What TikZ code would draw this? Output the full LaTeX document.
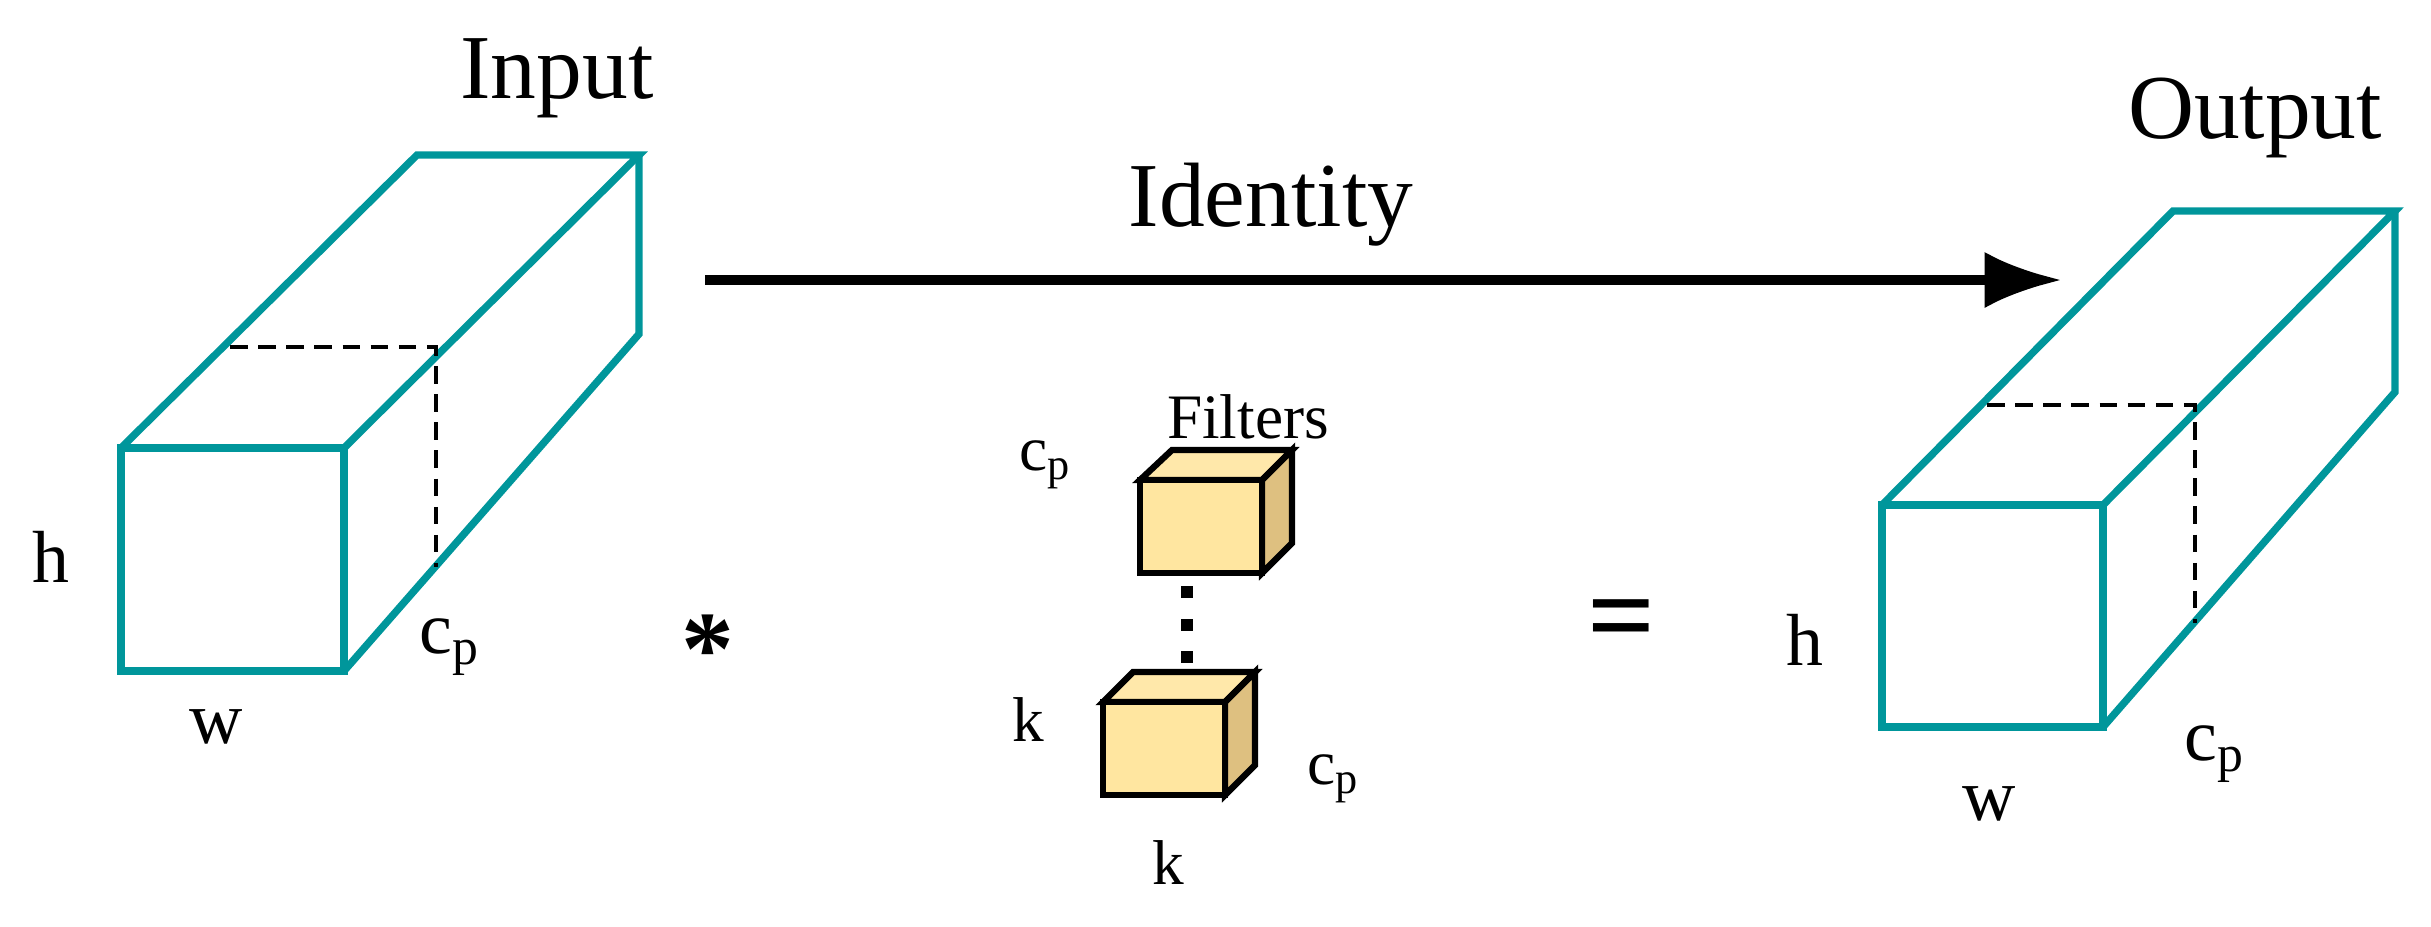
\documentclass[tikz,border=0pt]{standalone}
\usepackage{fontspec}
\setmainfont{Liberation Serif}
\usetikzlibrary{arrows.meta}
\definecolor{teal1}{RGB}{0,150,155}
\definecolor{ffront}{RGB}{255,230,160}
\definecolor{ftop}{RGB}{255,232,170}
\definecolor{fside}{RGB}{222,192,128}
\begin{document}
\begin{tikzpicture}[x=0.01cm,y=-0.01cm,
  box/.style={draw=teal1,line width=2.1pt,line join=miter},
  cut/.style={draw=black,line width=1.3pt,dash pattern=on 5pt off 3pt},
  fil/.style={draw=black,line width=1.8pt,line join=miter},
  big/.style={font=\fontsize{26}{30}\selectfont,inner sep=0pt},
  lab/.style={font=\fontsize{21}{25}\selectfont,inner sep=0pt},
  mid/.style={font=\fontsize{18}{22}\selectfont,inner sep=0pt}]
\useasboundingbox (0,0) rectangle (2431,926);
% Input box
\draw[box] (121,448) rectangle (344,671);
\draw[box] (121,448) -- (417,155) -- (639,155) -- (344,448);
\draw[box] (639,155) -- (639,334) -- (344,671);
\draw[cut] (230,347) -- (436,347) -- (436,567);
% Output box
\draw[box] (1882,505) rectangle (2103,727);
\draw[box] (1882,505) -- (2173,211) -- (2395,211) -- (2103,505);
\draw[box] (2395,211) -- (2395,392) -- (2103,727);
\draw[cut] (1987,405) -- (2195,405) -- (2195,623);
% Arrow
\coordinate (a1) at (705,280);
\coordinate (a2) at (2062,280);
\draw[line width=2.8pt,-{Latex[length=22pt,width=16pt]}] (a1) -- (a2);
\node[big] (id) at (1271,205) {Identity};
\node[big] (in) at (557,78) {Input};
\node[big] (out) at (2255,118) {Output};
% labels input
\node[lab] (h1) at (51,557) {h};
\node[lab] (c1) at (450,647) {c\textsubscript{p}};
\node[lab] (w1) at (216,727) {w};
\node[font=\bfseries\fontsize{30}{30}\selectfont] (star) at (708,650) {*};
\node[font=\bfseries\fontsize{34}{34}\selectfont] (eq) at (1622,628) {=};
% labels output
\node[lab] (h2) at (1805,640) {h};
\node[lab] (c2) at (2215,754) {c\textsubscript{p}};
\node[lab] (w2) at (1989,804) {w};
% Filters
\draw[fil,fill=ftop] (1140,480) -- (1172,450) -- (1292,450) -- (1262,480) -- cycle;
\draw[fil,fill=fside] (1262,480) -- (1292,450) -- (1292,543) -- (1262,573) -- cycle;
\draw[fil,fill=ffront] (1140,480) rectangle (1262,573);
\draw[fil,fill=ftop] (1103,702) -- (1133,672) -- (1255,672) -- (1225,702) -- cycle;
\draw[fil,fill=fside] (1225,702) -- (1255,672) -- (1255,765) -- (1225,795) -- cycle;
\draw[fil,fill=ffront] (1103,702) rectangle (1225,795);
\foreach \yy in {592,625,657} \fill (1181,\yy-6) rectangle (1193,\yy+6);
\node[mid] (ft) at (1248,417) {Filters};
\node[mid] (c3) at (1045,465) {c\textsubscript{p}};
\node[mid] (k1) at (1028,720) {k};
\node[mid] (c4) at (1333,779) {c\textsubscript{p}};
\node[mid] (k2) at (1168,863) {k};
\end{tikzpicture}
\end{document}
